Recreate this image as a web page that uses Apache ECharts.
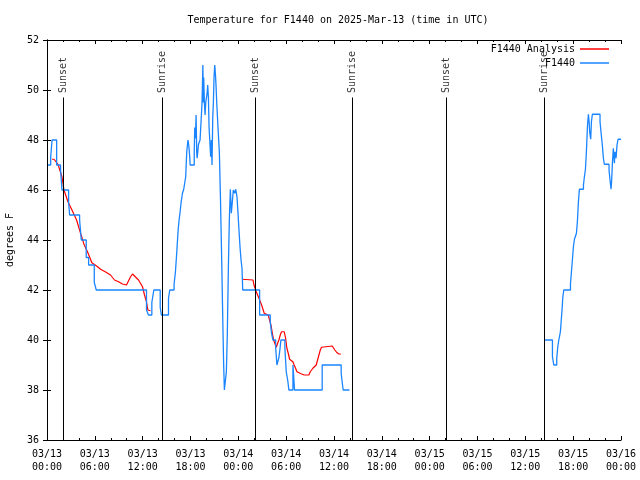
<!DOCTYPE html>
<html>
<head>
<meta charset="utf-8">
<script src="https://cdn.jsdelivr.net/npm/echarts@6/dist/echarts.min.js"></script>
<style>html,body{margin:0;padding:0;background:#fff;}#c{width:640px;height:480px;}</style>
</head>
<body>
<div id="c"></div>
<script>
// Hours since 2025-03-13 00:00 UTC
const X_TICK_LABELS = ['03/13\n00:00','03/13\n06:00','03/13\n12:00','03/13\n18:00','03/14\n00:00','03/14\n06:00','03/14\n12:00','03/14\n18:00','03/15\n00:00','03/15\n06:00','03/15\n12:00','03/15\n18:00','03/16\n00:00'];
const Y_TICKS = [36,38,40,42,44,46,48,50,52];
const SUN_TIMES = [2.0, 14.45, 26.13, 38.35, 50.12, 62.4];
const SUN_NAMES = ['Sunset','Sunrise','Sunset','Sunrise','Sunset','Sunrise'];

// F1440 observations (hour, degF)
const obsPart1 = [[0.125,47],[0.46,47.3],[0.63,48],[1.21,47],[1.7,46.8],[1.88,46],[2.71,45.5],[2.84,45],[4.09,44.8],[4.30,44],[4.92,43.3],[5.22,43],[5.93,42.3],[6.18,42],[12.48,41.2],[12.73,41],[13.15,41.5],[13.40,42],[14.2,41.3],[14.35,41],
[15.24,41.67],[15.40,42],[15.94,42.23],[16.11,42.73],[16.24,43.33],[16.32,43.73],[16.45,44.4],[16.57,44.8],[16.70,45.13],[16.82,45.5],[16.99,45.87],[17.15,46.03],[17.4,46.53],[17.53,47.53],[17.68,48.0],[17.78,47.8],[17.91,47.3],[17.95,47.0],[18.47,47.5],[18.53,48.5],[18.62,48.07],[18.70,49.0],[18.78,47.5],[18.83,47.27],[18.91,47.5],[18.99,47.8],[19.08,47.9],[19.20,48.0],[19.45,49.5],[19.55,51.0],[19.62,49.5],[19.66,50.5],[19.74,49.5],[19.83,49.0],[19.91,49.5],[20.08,49.87],[20.16,50.2],[20.25,49.67],[20.33,48.5],[20.45,47.8],[20.53,47.33],[20.62,48.0],[20.70,47.0],[20.79,48.9],[20.87,49.5],[20.95,50.5],[21.04,51.0],[21.12,50.67],[21.20,50.2],[21.29,49.5],[21.45,48.5],[21.62,47.5],[21.75,45.8],[21.91,43.27],[22.08,40.27],[22.16,39.0],[22.25,38.0],[22.50,38.73],[22.62,40.27],[22.75,42.87],[22.87,44.8],[23.0,46.03],[23.12,45.07],[23.25,45.53],[23.37,46.0],[23.54,45.87],[23.67,46.03],[23.83,45.73],[23.96,45.07],[24.08,44.4],[24.21,43.73],[24.33,43.23],[24.46,42.87],[24.55,42.0],
[26.67,41.0],[28.0,40.73],[28.17,40.27],[28.34,40.0],[28.68,39.71],[28.84,39.0],[29.09,39.3],[29.22,39.63],[29.34,40.0],[29.84,39.67],[30.01,38.73],[30.22,38.33],[30.34,38.0],[30.85,39.0],[31.05,38.0],[34.52,39.0],[36.90,38.67],[37.02,38.33],[37.15,38.0],[37.94,38.0]];
const obsPart2 = [[62.40,40],[63.40,39.33],[63.57,39.0],[63.94,39.27],[64.07,39.73],[64.20,40.0],[64.40,40.33],[64.49,40.73],[64.61,41.23],[64.70,41.71],[64.82,42.0],[65.66,42.24],[65.78,42.71],[65.91,43.23],[66.03,43.73],[66.16,44.03],[66.41,44.27],[66.53,44.73],[66.66,45.53],[66.78,46.03],[67.29,46.2],[67.41,46.53],[67.54,46.83],[67.66,47.53],[67.79,48.53],[67.91,49.03],[68.0,48.73],[68.08,48.29],[68.20,48.03],[68.29,48.73],[68.41,49.03],[69.37,48.73],[69.50,48.29],[69.66,47.8],[69.79,47.27],[69.91,47.03],[70.50,46.8],[70.62,46.4],[70.75,46.03],[70.83,46.4],[70.92,47.07],[71.04,47.67],[71.17,47.07],[71.25,47.53],[71.38,47.27],[71.50,47.8],[71.63,48.03],[72,48.03]];

// F1440 Analysis (hour, degF)
const anaPart1 = [[0.626,47.23],[0.877,47.23],[1.377,47.03],[1.878,46.53],[2.13,46.0],[2.63,45.53],[3.13,45.2],[3.71,44.8],[4.21,44.27],[4.63,43.84],[5.13,43.49],[5.63,43.09],[6.22,42.96],[6.72,42.83],[7.30,42.73],[7.97,42.6],[8.47,42.4],[8.97,42.33],[9.47,42.24],[9.97,42.2],[10.48,42.53],[10.73,42.64],[10.98,42.64],[11.48,42.4],[11.98,42.13],[12.23,41.8],[12.48,41.53],[12.65,41.2],[12.98,41.17]];
const anaPart2 = [[24.46,42.43],[25.84,42.4],[25.96,42.2],[26.25,41.93],[26.59,41.67],[26.92,41.4],[27.25,41.07],[27.75,41.0],[28.09,40.6],[28.42,40.0],[28.76,39.71],[28.93,39.87],[29.09,40.0],[29.26,40.2],[29.42,40.33],[29.59,40.36],[29.76,40.33],[29.93,40.07],[30.09,39.67],[30.26,39.47],[30.43,39.23],[30.84,39.13],[31.0,39.0],[31.18,38.87],[31.35,38.73],[31.6,38.69],[31.93,38.64],[32.27,38.6],[32.85,38.6],[33.02,38.73],[33.35,38.87],[33.6,38.93],[33.77,39.0],[33.94,39.2],[34.11,39.4],[34.28,39.6],[34.44,39.71],[34.61,39.76],[35.78,39.76],[35.95,39.7],[36.11,39.6],[36.35,39.5],[36.61,39.44],[36.86,39.44]];

const FONT = 'DejaVu Sans Mono';
const RED = '#ff0000';
const BLUE = '#1a85ff';
const LINE_TOP = 49.7;
const LABEL_BASE = 49.88;

const chart = echarts.init(document.getElementById('c'), null, {renderer: 'canvas'});
const axisCommon = {
  axisLine: {show: true, lineStyle: {color: '#000', width: 1}},
  axisTick: {show: true, inside: true, length: 4, lineStyle: {color: '#000'}},
  splitLine: {show: false}
};
const blueSeries = (data) => ({
  name: 'F1440', type: 'line', step: 'end', data: data, symbol: 'none',
  lineStyle: {color: BLUE, width: 1.3}, itemStyle: {color: BLUE}
});
const redSeries = (data, withLines) => {
  const s = {
    name: 'F1440 Analysis', type: 'line', data: data, symbol: 'none',
    lineStyle: {color: RED, width: 1.2}, itemStyle: {color: RED}
  };
  if (withLines) {
    s.markLine = {
      silent: true, symbol: ['none', 'none'], animation: false,
      label: {show: false},
      lineStyle: {color: '#000', width: 1, type: 'solid'},
      data: SUN_TIMES.map(t => [{coord: [t, Y_TICKS[0]]}, {coord: [t, LINE_TOP]}])
    };
  }
  return s;
};
chart.setOption({
  animation: false,
  backgroundColor: '#fff',
  title: {
    text: 'Temperature for F1440 on 2025-Mar-13 (time in UTC)',
    left: 333, top: 10, textAlign: 'center',
    textStyle: {fontFamily: FONT, fontSize: 10, fontWeight: 'normal', color: '#000'}
  },
  legend: {
    orient: 'vertical', right: 31, top: 42, align: 'right',
    itemWidth: 29, itemHeight: 1.5, itemGap: 0, padding: 0, icon: 'rect',
    data: ['F1440 Analysis', 'F1440'],
    textStyle: {fontFamily: FONT, fontSize: 10, color: '#000', lineHeight: 14}
  },
  grid: {left: 47, right: 19, top: 40, bottom: 40, show: false, containLabel: false, outerBoundsMode: 'none'},
  xAxis: [
    Object.assign({}, axisCommon, {
      type: 'value', min: 0, max: 72, interval: 6, position: 'bottom',
      minorTick: {show: true, splitNumber: 3, length: 2, lineStyle: {color: '#000'}},
      axisLabel: {fontFamily: FONT, fontSize: 10, color: '#000', margin: 8, lineHeight: 13,
        showMinLabel: true, showMaxLabel: true, hideOverlap: false,
        formatter: v => X_TICK_LABELS[Math.round(v / 6)]}
    }),
    Object.assign({}, axisCommon, {
      type: 'value', min: 0, max: 72, interval: 6, position: 'top',
      minorTick: {show: true, splitNumber: 3, length: 2, lineStyle: {color: '#000'}},
      axisLabel: {show: false}
    })
  ],
  yAxis: [
    Object.assign({}, axisCommon, {
      type: 'value', min: Y_TICKS[0], max: Y_TICKS[Y_TICKS.length - 1], interval: 2, position: 'left',
      name: 'degrees F', nameLocation: 'middle', nameGap: 32, nameRotate: 90,
      nameTextStyle: {fontFamily: FONT, fontSize: 10, color: '#000'},
      axisLabel: {fontFamily: FONT, fontSize: 10, color: '#000', margin: 8}
    }),
    Object.assign({}, axisCommon, {
      type: 'value', min: Y_TICKS[0], max: Y_TICKS[Y_TICKS.length - 1], interval: 2, position: 'right',
      axisLabel: {show: false}
    })
  ],
  series: [
    redSeries(anaPart1, true),
    redSeries(anaPart2, false),
    blueSeries(obsPart1),
    blueSeries(obsPart2),
    {
      name: 'sun', type: 'scatter', symbolSize: 0, silent: true,
      data: SUN_TIMES.map((t, i) => [t, LABEL_BASE, SUN_NAMES[i]]),
      label: {show: true, position: 'inside', rotate: 90, align: 'left', verticalAlign: 'middle',
        formatter: p => p.value[2], fontFamily: FONT, fontSize: 10, color: '#000'}
    }
  ]
});
</script>
</body>
</html>
